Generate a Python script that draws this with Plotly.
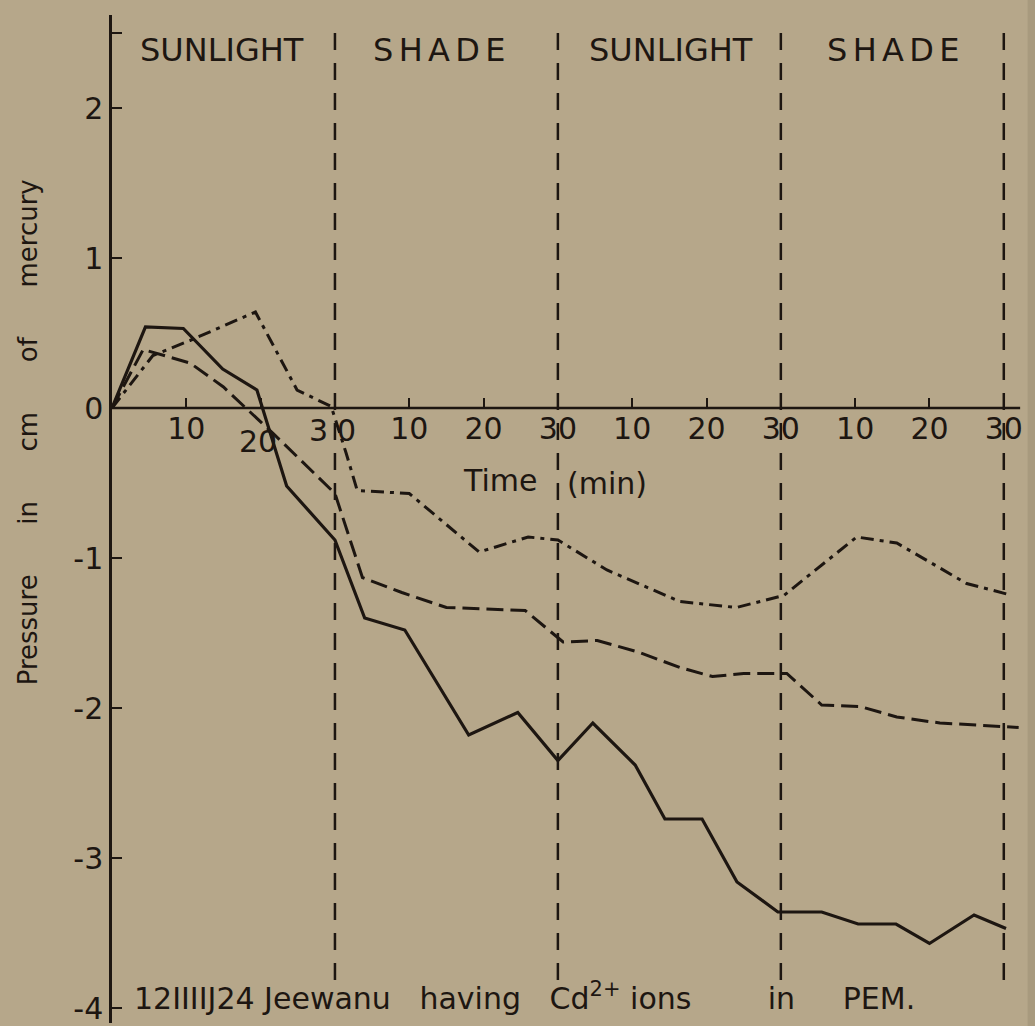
import plotly.graph_objects as go

# Pressure (cm of mercury) vs. elapsed time (min), three runs
solid_t = [0, 4.5, 9.6, 14.9, 19.5, 23.5, 30, 34, 39.4, 48, 54.6, 60, 64.7, 70.4,
           74.4, 79.4, 84.1, 89.6, 95.5, 100.4, 105.5, 110, 116, 120.3]
solid_p = [0, 0.54, 0.53, 0.26, 0.12, -0.52, -0.88, -1.40, -1.48, -2.18, -2.03, -2.35,
           -2.10, -2.38, -2.74, -2.74, -3.16, -3.36, -3.36, -3.44, -3.44, -3.57, -3.38, -3.47]

dash_t = [0, 4.2, 10.5, 15, 18, 21.7, 30, 33.7, 39, 45, 55.6, 60.7, 65.3, 71, 76.4,
          80.8, 85, 90.8, 95.5, 100.7, 105.6, 111.4, 122]
dash_p = [0, 0.39, 0.30, 0.14, 0, -0.17, -0.57, -1.13, -1.23, -1.33, -1.35, -1.56, -1.55,
          -1.63, -1.73, -1.79, -1.77, -1.77, -1.98, -1.99, -2.06, -2.10, -2.13]

dashdot_t = [0, 5.5, 10.5, 19.3, 24.9, 29.5, 31.5, 33, 40, 49.4, 56, 60, 66.6, 76.4, 84,
             90.4, 100.2, 105.6, 115, 120.4]
dashdot_p = [0, 0.35, 0.45, 0.64, 0.12, 0.01, -0.30, -0.55, -0.57, -0.96, -0.86, -0.88,
             -1.08, -1.29, -1.33, -1.25, -0.86, -0.90, -1.17, -1.24]

phase_bounds = [30, 60, 90, 120]
phase_names = ["SUNLIGHT", "S\u2006H\u2006A\u2006D\u2006E", "SUNLIGHT", "S\u2006H\u2006A\u2006D\u2006E"]
phase_centers = [14.8, 44.1, 75.2, 105.2]

x_ticks = [10, 20, 30, 40, 50, 60, 70, 80, 90, 100, 110, 120]
x_ticktext = ["10", "", "", "10", "20", "30", "10", "20", "30", "10", "20", "30"]
y_ticks = [-4, -3, -2, -1, 0, 1, 2, 2.5]
y_ticktext = ["-4", "-3", "-2", "-1", "0", "1", "2", ""]

INK = "#1d1611"
PAPER = "#b6a78a"
FONT = "DejaVu Sans"


def gap(n):
    return "\u00a0" * n


fig = go.Figure()
fig.add_trace(go.Scatter(x=dashdot_t, y=dashdot_p, mode="lines",
                         line=dict(color=INK, width=3, dash="13px,6px,4px,6px")))
fig.add_trace(go.Scatter(x=dash_t, y=dash_p, mode="lines",
                         line=dict(color=INK, width=3, dash="17px,7px")))
fig.add_trace(go.Scatter(x=solid_t, y=solid_p, mode="lines",
                         line=dict(color=INK, width=3.2)))

shapes = []
# phase boundaries
for b in phase_bounds:
    shapes.append(dict(type="line", xref="x", yref="y", x0=b, x1=b, y0=2.5, y1=-3.82,
                       line=dict(color=INK, width=2.5, dash="17px,13px")))
# zero line acting as the time axis
shapes.append(dict(type="line", xref="x", yref="y", x0=0, x1=122.2, y0=0, y1=0,
                   line=dict(color=INK, width=2.5)))
# darker strip at the right edge of the sheet
shapes.append(dict(type="rect", xref="paper", yref="paper", x0=0.992, x1=1.02, y0=-0.01, y1=1.02,
                   fillcolor="#a89a7e", line=dict(width=0), layer="below"))

annotations = []
for name, c in zip(phase_names, phase_centers):
    annotations.append(dict(x=c, y=2.39, xref="x", yref="y", text=name, showarrow=False,
                            font=dict(family=FONT, size=32, color=INK)))
annotations += [
    dict(x=19.6, y=-0.22, xref="x", yref="y", text="20", showarrow=False,
         font=dict(family=FONT, size=30, color=INK)),
    dict(x=27.8, y=-0.15, xref="x", yref="y", text="3", showarrow=False,
         font=dict(family=FONT, size=30, color=INK)),
    dict(x=31.6, y=-0.15, xref="x", yref="y", text="0", showarrow=False,
         font=dict(family=FONT, size=30, color=INK)),
    dict(x=52.2, y=-0.48, xref="x", yref="y", text="Time", showarrow=False,
         font=dict(family=FONT, size=30, color=INK)),
    dict(x=66.6, y=-0.50, xref="x", yref="y", text="(min)", showarrow=False,
         font=dict(family=FONT, size=30, color=INK)),
    dict(x=2.7, y=-3.92, xref="x", yref="y", xanchor="left",
         text=("12IIIIJ24 Jeewanu" + gap(3) + "having" + gap(3) + "Cd<sup>2+</sup> ions"
               + gap(8) + "in" + gap(5) + "PEM."),
         showarrow=False, font=dict(family=FONT, size=30, color=INK)),
    dict(x=-0.091, y=0.586, xref="paper", yref="paper", textangle=-90,
         xanchor="center", yanchor="middle",
         text=("Pressure" + gap(6) + "in" + gap(6) + "cm" + gap(6) + "of" + gap(6) + "mercury"),
         showarrow=False, font=dict(family=FONT, size=26, color=INK)),
]

fig.update_layout(
    width=1035, height=1026,
    margin=dict(l=112, r=0, t=15, b=3),
    paper_bgcolor=PAPER, plot_bgcolor=PAPER,
    showlegend=False,
    shapes=shapes, annotations=annotations,
    xaxis=dict(range=[0, 124.2], anchor="free", position=4.1 / 6.72,
               showline=False, showgrid=False, zeroline=False,
               tickmode="array", tickvals=x_ticks, ticktext=x_ticktext,
               ticks="inside", ticklen=10, tickwidth=2, tickcolor=INK,
               tickfont=dict(family=FONT, size=30, color=INK)),
    yaxis=dict(range=[-4.1, 2.62], showline=True, linecolor=INK, linewidth=2.5,
               showgrid=False, zeroline=False,
               tickmode="array", tickvals=y_ticks, ticktext=y_ticktext,
               ticks="inside", ticklen=10, tickwidth=2, tickcolor=INK,
               tickfont=dict(family=FONT, size=30, color=INK)),
)

fig.write_html("out.html")
